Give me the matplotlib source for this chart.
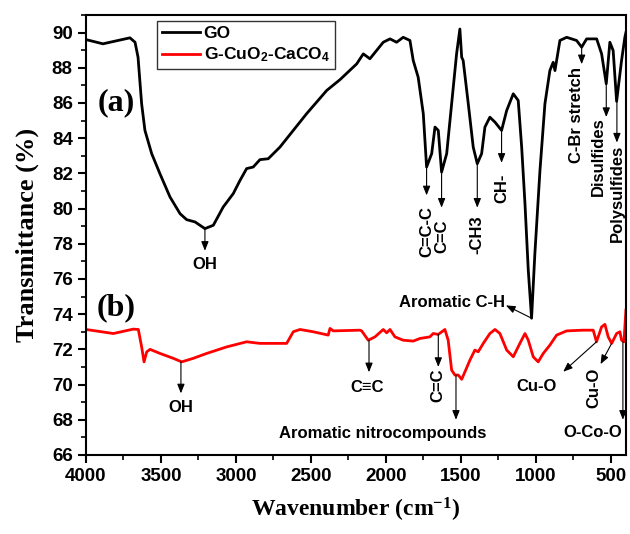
import matplotlib
matplotlib.use('Agg')
import matplotlib.pyplot as plt
from matplotlib.ticker import MultipleLocator

plt.rcParams['font.family'] = ['Liberation Sans', 'DejaVu Sans']
plt.rcParams['font.weight'] = 'bold'
plt.rcParams['mathtext.fontset'] = 'custom'
plt.rcParams['mathtext.rm'] = 'Liberation Serif:bold'
plt.rcParams['mathtext.sf'] = 'Liberation Sans:bold'
plt.rcParams['mathtext.default'] = 'rm'

# FTIR spectrum of GO (wavenumber in cm-1, transmittance in %)
go_wn = [4000, 3887, 3707, 3673, 3653, 3629, 3607, 3562, 3507, 3440, 3373, 3329,
         3273, 3207, 3151, 3085, 3018, 2973, 2929, 2885, 2840, 2785, 2707, 2618,
         2529, 2395, 2307, 2195, 2151, 2107, 2018, 1973, 1929, 1885, 1840, 1818,
         1785, 1751, 1729, 1695, 1673, 1651, 1629, 1595, 1562, 1529, 1507, 1495,
         1485, 1451, 1418, 1391, 1362, 1340, 1307, 1273, 1229, 1195, 1151, 1118,
         1095, 1073, 1051, 1029, 1007, 973, 940, 907, 885, 873, 862, 840, 795,
         729, 695, 662, 595, 562, 531, 507, 485, 462, 429, 407, 400]
go_t = [89.60, 89.36, 89.70, 89.45, 88.60, 85.95, 84.44, 83.12, 81.98, 80.66, 79.71, 79.37,
        79.24, 78.86, 79.05, 80.09, 80.85, 81.60, 82.27, 82.36, 82.78, 82.83, 83.49, 84.44,
        85.39, 86.71, 87.32, 88.22, 88.79, 88.51, 89.45, 89.64, 89.45, 89.73, 89.55, 88.41,
        87.46, 85.39, 82.36, 83.12, 84.63, 84.44, 82.07, 83.12, 85.95, 88.79, 90.20, 88.60,
        88.41, 85.95, 83.49, 82.55, 83.12, 84.63, 85.19, 84.91, 84.44, 85.57, 86.52, 86.14,
        83.49, 80.28, 76.50, 73.77, 77.44, 82.17, 85.95, 87.84, 88.31, 87.84, 88.41, 89.55, 89.73,
        89.55, 89.17, 89.64, 89.64, 88.79, 87.09, 89.45, 88.98, 86.09, 88.41, 89.73, 90.0]

# FTIR spectrum of G-CuO2-CaCO4
cu_wn = [4000, 3818, 3685, 3651, 3629, 3613, 3595, 3573, 3507, 3418, 3362, 3285,
         3195, 3062, 2929, 2840, 2662, 2618, 2573, 2485, 2385, 2373, 2351, 2173,
         2162, 2118, 2073, 2018, 1995, 1973, 1940, 1885, 1818, 1773, 1707, 1685,
         1651, 1607, 1585, 1562, 1540, 1518, 1495, 1473, 1440, 1407, 1385, 1351,
         1307, 1273, 1240, 1195, 1151, 1107, 1073, 1051, 1018, 985, 951, 907,
         862, 795, 685, 618, 596, 562, 540, 518, 495, 462, 440, 429, 413, 400]
cu_t = [73.13, 72.90, 73.15, 73.13, 72.14, 71.29, 71.86, 72.00, 71.77, 71.49, 71.29, 71.49,
        71.77, 72.14, 72.43, 72.34, 72.34, 73.00, 73.13, 73.00, 72.81, 73.19, 73.05, 73.09,
        73.05, 72.52, 72.71, 73.13, 72.94, 73.13, 72.71, 72.52, 72.47, 72.62, 72.71, 72.90,
        72.85, 73.13, 72.52, 70.82, 70.54, 70.54, 70.30, 70.73, 71.39, 71.96, 71.86, 72.34,
        72.90, 73.13, 72.90, 71.96, 71.58, 72.34, 72.90, 72.52, 71.58, 71.29, 71.77, 72.24,
        72.81, 73.05, 73.09, 73.09, 72.43, 73.28, 73.42, 72.71, 72.34, 72.90, 73.00, 72.52, 72.43, 74.23]

series_names = ['GO', 'G-CuO$_\\mathsf{2}$-CaCO$_\\mathsf{4}$']

fig = plt.figure(figsize=(6.3, 5.34), dpi=100)
ax = fig.add_axes([0.1365, 0.148, 0.857, 0.824])

ax.plot(go_wn, go_t, color='black', lw=2.0, label=series_names[0], solid_joinstyle='round')
ax.plot(cu_wn, cu_t, color='#ff0000', lw=2.0, label=series_names[1], solid_joinstyle='round')

ax.set_xlim(4000, 400)
ax.set_ylim(66, 91)
ax.xaxis.set_major_locator(MultipleLocator(500))
ax.xaxis.set_minor_locator(MultipleLocator(250))
ax.yaxis.set_major_locator(MultipleLocator(2))
ax.yaxis.set_minor_locator(MultipleLocator(1))
ax.tick_params(which='major', direction='out', length=6, width=1.5, labelsize=13.5)
ax.tick_params(which='minor', direction='out', length=3.5, width=1.2)
for lab in ax.get_xticklabels() + ax.get_yticklabels():
    lab.set_fontweight('bold')
for s in ax.spines.values():
    s.set_linewidth(1.5)

serif = {'family': 'Liberation Serif', 'weight': 'bold'}
ax.set_xlabel('Wavenumber (cm$^{-1}$)', fontdict=serif, fontsize=17, labelpad=8)
ax.set_ylabel('Transmittance (%)', fontdict=serif, fontsize=19, labelpad=9)

ax.text(3800, 86.0, '(a)', fontdict=serif, fontsize=23, ha='center', va='center')
ax.text(3800, 74.35, '(b)', fontdict=serif, fontsize=23, ha='center', va='center')

arrow = dict(arrowstyle='-|>,head_length=0.55,head_width=0.22', color='black',
             lw=0.8, shrinkA=0, shrinkB=0)
fs = 12


def mark(x0, y0, x1, y1):
    ax.annotate('', xy=(x1, y1), xytext=(x0, y0), arrowprops=arrow)


# (a) GO band assignments
mark(3207, 78.86, 3207, 77.6)
ax.text(3207, 76.8, 'OH', fontsize=fs, ha='center', va='center')
mark(1729, 82.36, 1729, 80.75)
ax.text(1729, 80.15, 'C=C-C', fontsize=fs, rotation=90, ha='center', va='top')
mark(1629, 82.07, 1629, 80.05)
ax.text(1629, 79.35, 'C=C', fontsize=fs, rotation=90, ha='center', va='top')
mark(1391, 82.55, 1391, 80.05)
ax.text(1391, 79.6, '-CH3', fontsize=fs, rotation=90, ha='center', va='top')
mark(1229, 84.44, 1229, 82.6)
ax.text(1229, 82.0, 'CH-', fontsize=fs, rotation=90, ha='center', va='top')
mark(1029, 73.77, 1200, 74.5)
ax.text(1207, 74.68, 'Aromatic C-H', fontsize=fs, ha='right', va='center')
mark(695, 89.17, 695, 88.2)
ax.text(727, 88.05, 'C-Br stretch', fontsize=fs, rotation=90, ha='center', va='top')
mark(531, 87.09, 531, 85.2)
ax.text(585, 85.2, 'Disulfides', fontsize=fs, rotation=90, ha='center', va='top')
mark(460, 86.09, 460, 83.75)
ax.text(458, 83.6, 'Polysulfides', fontsize=fs, rotation=90, ha='center', va='top')

# (b) G-CuO2-CaCO4 band assignments
mark(3367, 71.29, 3367, 69.5)
ax.text(3367, 68.7, 'OH', fontsize=fs, ha='center', va='center')
mark(2113, 72.52, 2113, 70.7)
ax.text(2125, 69.85, 'C\u2261C', fontsize=fs, ha='center', va='center')
mark(1651, 72.85, 1651, 71.0)
ax.text(1651, 70.9, 'C=C', fontsize=fs, rotation=90, ha='center', va='top')
mark(1533, 70.54, 1533, 68.0)
ax.text(2020, 67.2, 'Aromatic nitrocompounds', fontsize=fs, ha='center', va='center')
mark(596, 72.43, 818, 70.73)
ax.text(996, 69.88, 'Cu-O', fontsize=fs, ha='center', va='center')
mark(495, 72.34, 569, 71.16)
ax.text(613, 70.94, 'Cu-O', fontsize=fs, rotation=90, ha='center', va='top')
mark(420, 72.43, 420, 68.0)
ax.text(620, 67.29, 'O-Co-O', fontsize=fs, ha='center', va='center')

leg = ax.legend(loc='upper left', bbox_to_anchor=(0.131, 0.986), fontsize=12.5,
                frameon=True, fancybox=False, edgecolor='#333333', framealpha=1,
                handlelength=2.2, handletextpad=0.2, borderpad=0.3, labelspacing=0.25,
                borderaxespad=0)
leg.get_frame().set_linewidth(1.0)
for t in leg.get_texts():
    t.set_fontweight('bold')

fig.savefig('out.png', dpi=100)
